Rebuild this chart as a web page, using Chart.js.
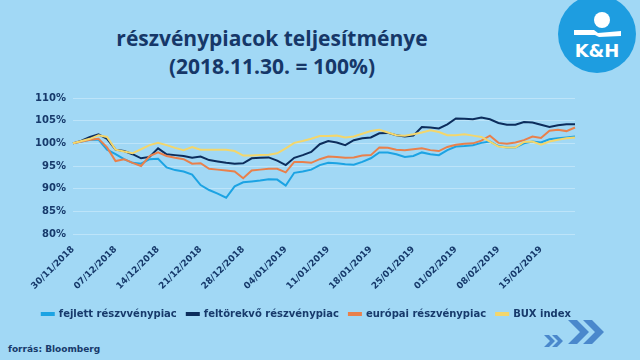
<!DOCTYPE html>
<html>
<head>
<meta charset="utf-8">
<script src="https://cdn.jsdelivr.net/npm/chart.js@4.4.1/dist/chart.umd.min.js"></script>
<style>
  html, body { margin:0; padding:0; }
  body { width:640px; height:360px; background:#A1D8F5; position:relative; overflow:hidden; font-family:"DejaVu Sans", sans-serif; }
  #title { position:absolute; left:72px; width:400px; top:24px; text-align:center; color:#163768; font-family:"Open Sans", sans-serif; font-weight:700; font-size:21px; line-height:28px; }
  #src { position:absolute; left:8px; top:344px; color:#173A6B; font-family:"DejaVu Sans", sans-serif; font-weight:700; font-size:9px; }
  #chartWrap { position:absolute; left:0; top:85px; width:640px; height:245px; }
  svg { position:absolute; }
</style>
</head>
<body>
<div id="title">részvénypiacok teljesítménye<br>(2018.11.30. = 100%)</div>
<svg id="logo" style="left:555px;top:0" width="85" height="80" viewBox="0 0 85 80">
  <circle cx="42" cy="34" r="39" fill="#1E9DE0"/>
  <circle cx="47" cy="20" r="8" fill="#fff"/>
  <polygon points="19,30 39,30 43,33 66,31 66,36 44,37 40,35 19,35" fill="#fff"/>
  <text x="42" y="57" text-anchor="middle" fill="#fff" font-family="DejaVu Sans" font-weight="700" font-size="18">K&amp;H</text>
</svg>
<svg id="arrows" style="left:540px;top:310px" width="80" height="45" viewBox="0 0 80 45">
  <g fill="#4A88CC">
    <polygon points="4,25 9,25 15,31 9,37 4,37 10,31"/>
    <polygon points="12,25 17,25 23,31 17,37 12,37 18,31"/>
    <polygon points="28,10 37,10 49,22 37,34 28,34 40,22"/>
    <polygon points="43,10 52,10 64,22 52,34 43,34 55,22"/>
  </g>
</svg>
<div id="src">forrás: Bloomberg</div>
<div id="chartWrap"><canvas id="c" width="640" height="245"></canvas></div>
<script>
const dates = [
  "30/11/2018","03/12/2018","04/12/2018","05/12/2018","06/12/2018",
  "07/12/2018","10/12/2018","11/12/2018","12/12/2018","13/12/2018",
  "14/12/2018","17/12/2018","18/12/2018","19/12/2018","20/12/2018",
  "21/12/2018","24/12/2018","25/12/2018","26/12/2018","27/12/2018",
  "28/12/2018","31/12/2018","01/01/2019","02/01/2019","03/01/2019",
  "04/01/2019","07/01/2019","08/01/2019","09/01/2019","10/01/2019",
  "11/01/2019","14/01/2019","15/01/2019","16/01/2019","17/01/2019",
  "18/01/2019","21/01/2019","22/01/2019","23/01/2019","24/01/2019",
  "25/01/2019","28/01/2019","29/01/2019","30/01/2019","31/01/2019",
  "01/02/2019","04/02/2019","05/02/2019","06/02/2019","07/02/2019",
  "08/02/2019","11/02/2019","12/02/2019","13/02/2019","14/02/2019",
  "15/02/2019","18/02/2019","19/02/2019","20/02/2019","21/02/2019"
];
const fejlett = [
  100.0,100.4,100.8,100.8,98.6, 97.6,96.5,95.7,95.5,96.5,
  96.6,94.7,94.1,93.8,93.1, 90.8,89.7,88.9,88.0,90.5,
  91.4,91.6,91.8,92.1,92.0, 90.7,93.5,93.8,94.2,95.2,
  95.7,95.6,95.4,95.3,95.9, 96.7,98.0,98.0,97.6,97.0,
  97.2,98.0,97.6,97.4,98.5, 99.3,99.4,99.6,100.1,100.4,
  99.4,99.1,99.1,100.0,100.4, 100.2,100.9,101.1,101.3,101.5
];
const feltorekvo = [
  100.0,100.6,101.4,102.0,101.0, 98.6,98.3,97.6,96.7,97.0,
  98.9,97.6,97.4,97.2,96.8, 97.1,96.3,96.0,95.7,95.5,
  95.6,96.7,96.8,96.9,96.2, 95.2,96.8,97.4,98.1,99.8,
  100.5,100.2,99.6,100.7,101.1, 101.3,102.2,102.3,101.8,101.5,
  101.7,103.6,103.5,103.3,104.2, 105.5,105.4,105.3,105.7,105.3,
  104.5,104.1,104.1,104.7,104.6, 104.1,103.6,104.0,104.2,104.2
];
const europai = [
  100.0,100.4,100.8,101.0,99.1, 96.1,96.5,95.7,95.0,97.2,
  98.0,97.2,96.8,96.5,95.5, 95.6,94.4,94.2,94.0,93.8,
  92.3,94.0,94.2,94.4,94.4, 93.6,95.9,95.9,95.7,96.5,
  97.1,97.0,96.8,96.9,97.3, 97.4,99.1,99.0,98.6,98.5,
  98.7,98.9,98.5,98.3,99.2, 99.7,99.9,100.0,100.6,101.7,
  100.1,99.9,100.2,100.7,101.5, 101.2,102.8,103.0,102.7,103.5
];
const bux = [
  100.0,100.5,101.0,101.8,101.4, 98.6,98.2,97.8,98.7,99.6,
  100.1,99.6,99.0,98.5,99.2, 98.6,98.6,98.6,98.6,98.3,
  97.3,97.3,97.4,97.5,97.8, 98.9,100.1,100.5,101.0,101.6,
  101.6,101.7,101.3,101.5,102.1, 102.7,103.0,102.4,101.8,101.7,
  102.0,102.4,102.9,102.5,101.8, 101.8,102.0,101.7,101.4,100.4,
  99.3,99.1,99.1,100.3,100.4, 99.7,100.4,100.8,101.1,101.3
];
const seriesNames = ["fejlett részvvénypiac","feltörekvő részvénypiac","európai részvénypiac","BUX index"];
const seriesColors = ["#1CA3E3","#0C2D5C","#E9804B","#F3D66C"];
const yTicks = [80,85,90,95,100,105,110];

const textColor = "#173A6B";
const allSeries = [fejlett, feltorekvo, europai, bux];
const datasets = allSeries.map((d,i)=>({
  label: seriesNames[i],
  data: d,
  borderColor: seriesColors[i],
  backgroundColor: seriesColors[i],
  borderWidth: 2,
  pointRadius: 0,
  tension: 0,
  order: 3 - i
}));

const shiftLegend = {
  id: 'shiftLegend',
  afterLayout(chart) {
    if (chart.legend) { chart.legend.left += 6; chart.legend.right += 6; }
  }
};

new Chart(document.getElementById('c'), {
  type: 'line',
  data: { labels: dates, datasets },
  plugins: [shiftLegend],
  options: {
    responsive: false,
    devicePixelRatio: 1,
    animation: false,
    layout: { padding: { top: 13, right: 65, bottom: 1, left: 0 } },
    plugins: {
      legend: {
        position: 'bottom',
        align: 'end',
        labels: {
          boxWidth: 12, boxHeight: 2, padding: 10,
          color: textColor,
          font: { family: "DejaVu Sans", weight: 'bold', size: 10 },
          sort: (a,b) => a.datasetIndex - b.datasetIndex
        }
      },
      tooltip: { enabled: false }
    },
    scales: {
      x: {
        grid: { display: false },
        border: { display: false },
        ticks: {
          autoSkip: false, maxRotation: 45, minRotation: 45,
          color: textColor, padding: 2,
          font: { family: "DejaVu Sans", weight: 'bold', size: 9 },
          callback: function(v, i) { return i % 5 === 0 ? dates[i] : ''; }
        },
        afterFit: s => { s.height = 65; }
      },
      y: {
        min: 80, max: 110,
        afterBuildTicks: s => { s.ticks = yTicks.map(v=>({value:v})); },
        grid: { color: "#BDE4F9", lineWidth: 1, drawTicks: false },
        border: { display: false },
        ticks: {
          color: textColor, padding: 7,
          font: { family: "DejaVu Sans", weight: 'bold', size: 10 },
          callback: v => v + '%'
        },
        afterFit: s => { s.width = 73; }
      }
    }
  }
});
</script>
</body>
</html>
